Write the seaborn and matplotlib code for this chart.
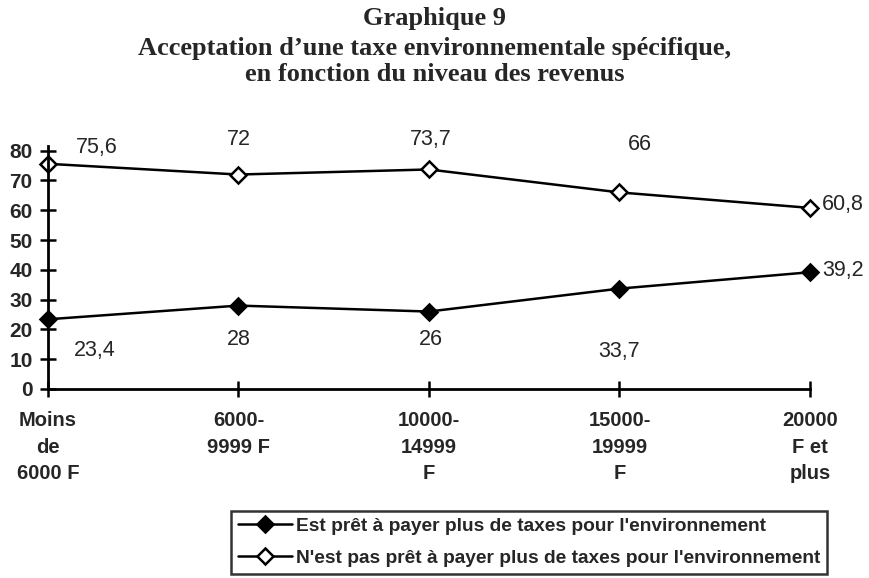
import pandas as pd
import matplotlib.pyplot as plt
import seaborn as sns

# ── Data ──────────────────────────────────────────────────────────────────────
categories = ['Moins\nde\n6000 F', '6000-\n9999 F', '10000-\n14999\nF',
              '15000-\n19999\nF', '20000\nF et\nplus']
pret = [23.4, 28, 26, 33.7, 39.2]
pas_pret = [75.6, 72, 73.7, 66, 60.8]
label_pret = "Est prêt à payer plus de taxes pour l'environnement"
label_pas_pret = "N'est pas prêt à payer plus de taxes pour l'environnement"

df = pd.DataFrame({'x': list(range(len(categories))) * 2,
                   'value': pret + pas_pret,
                   'serie': [label_pret] * 5 + [label_pas_pret] * 5})

sns.set_style('white')
plt.rcParams['font.family'] = ['Liberation Sans', 'DejaVu Sans']

fig = plt.figure(figsize=(8.7, 5.78), dpi=100)
ax = fig.add_axes([0.055, 0.327, 0.876, 0.42])

for serie, face in [(label_pret, 'black'), (label_pas_pret, 'white')]:
    sub = df[df['serie'] == serie]
    sns.lineplot(data=sub, x='x', y='value', ax=ax, color='black', lw=1.8,
                 marker='D', markersize=8, markerfacecolor=face,
                 markeredgecolor='black', markeredgewidth=1.8,
                 label=serie, clip_on=False)

# ── Value labels ──────────────────────────────────────────────────────────────
offs_pret = [(47, -31), (0, -34), (2, -28), (0, -63), (12, 2)]
offs_pas = [(49, 16), (0, 35), (2, 30), (20, 48), (12, 3)]
for i in range(len(categories)):
    for vals, offs in [(pret, offs_pret), (pas_pret, offs_pas)]:
        txt = f'{vals[i]:g}'.replace('.', ',')
        ha = 'left' if i == len(categories) - 1 else 'center'
        ax.annotate(txt, (i, vals[i]), xytext=offs[i], textcoords='offset pixels',
                    ha=ha, va='center', fontsize=15.5)

ax.set_xlim(0, len(categories) - 1)
ax.set_ylim(0, 81.5)
ax.set_yticks(range(0, 81, 10))
ax.set_xticks(range(len(categories)))
ax.set_xticklabels(categories, fontweight='bold', fontsize=14.5, linespacing=1.5,
                   va='top')
for t in ax.get_yticklabels():
    t.set_fontweight('bold')
    t.set_fontsize(15)
ax.set_xlabel('')
ax.set_ylabel('')
ax.tick_params(axis='both', direction='inout', length=12, width=1.8, color='black',
               bottom=True, left=True)
ax.tick_params(axis='x', pad=10)
ax.tick_params(axis='y', pad=5)
sns.despine(ax=ax)
for s in ['left', 'bottom']:
    ax.spines[s].set_linewidth(2)
    ax.spines[s].set_color('black')

# ── Title ─────────────────────────────────────────────────────────────────────
fig.text(0.5, 0.968, 'Graphique 9', ha='center', va='center', fontsize=19,
         fontweight='bold', family='Liberation Serif')
fig.text(0.5, 0.894, "Acceptation d’une taxe environnementale spécifique,\n"
         "en fonction du niveau des revenus", ha='center', va='center',
         fontsize=19, fontweight='bold', family='Liberation Serif', linespacing=1.15)

# ── Legend ────────────────────────────────────────────────────────────────────
leg = ax.legend(loc='upper left', bbox_to_anchor=(0.266, 0.116),
                bbox_transform=fig.transFigure, frameon=True, fancybox=False,
                edgecolor='black', prop={'weight': 'bold', 'size': 13.8},
                handlelength=2.8, handletextpad=0.2, borderpad=0.35,
                labelspacing=0.75, borderaxespad=0)
leg.get_frame().set_linewidth(1.8)

plt.savefig('out.png', dpi=100)
plt.close()
